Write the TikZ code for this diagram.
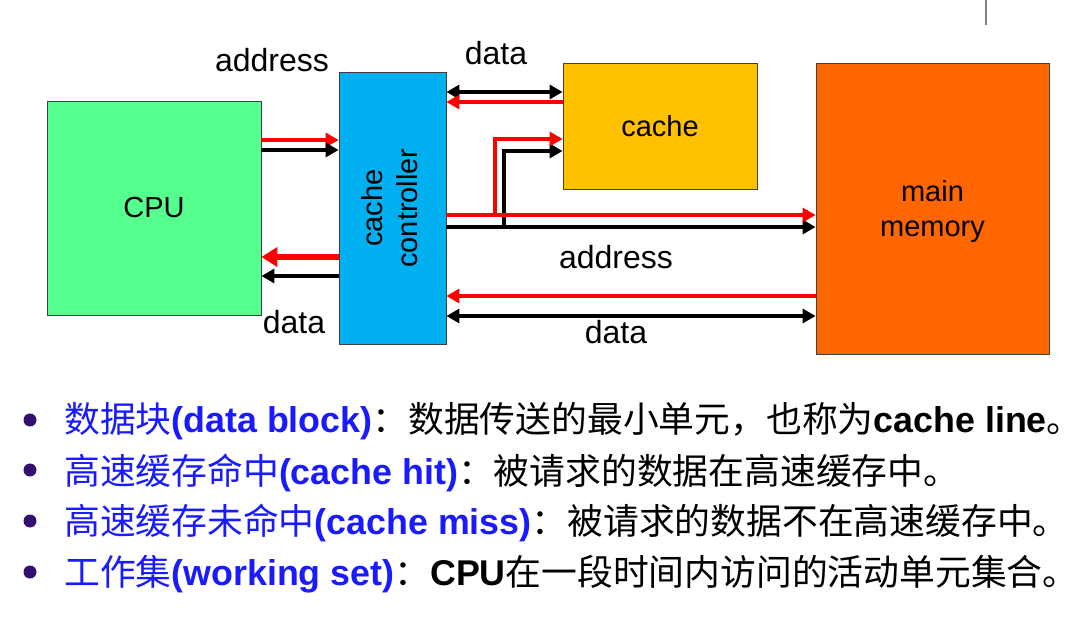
\documentclass[tikz,border=0pt]{standalone}
\usepackage{fontspec}
\setmainfont{Liberation Sans}
\newfontfamily\cjk{Noto Sans CJK SC}
\usetikzlibrary{arrows.meta}
\definecolor{cpugreen}{HTML}{55FF8E}
\definecolor{ctrlblue}{HTML}{00B0F0}
\definecolor{cacheyellow}{HTML}{FFC000}
\definecolor{memorange}{HTML}{FF6600}
\definecolor{busred}{HTML}{FF0000}
\definecolor{termblue}{HTML}{1A1AFF}
\definecolor{bulletpurple}{HTML}{34106E}
\newcommand{\zh}[1]{{\cjk #1}}
\newcommand{\term}[2]{\textcolor{termblue}{\zh{#1}\textbf{(#2)}}}

\begin{document}
\begin{tikzpicture}[
		x=1pt, y=-1pt,
		>={Triangle[length=13pt,width=14pt]},
		box/.style={draw=black!75, line width=0.8pt, inner sep=0pt, font=\fontsize{29}{35}\selectfont},
		redbus/.style={busred, line width=4pt},
		blackbus/.style={black, line width=4pt},
		buslabel/.style={font=\fontsize{32}{36}\selectfont},
		item/.style={anchor=base west, inner sep=0pt, font=\fontsize{35.8}{40}\selectfont}
	]
	\useasboundingbox (0,0) rectangle (1088,620);
	\draw[gray, line width=1.5pt] (986,0) -- (986,25);

	% blocks
	\node[box, fill=cpugreen, minimum width=214pt, minimum height=214pt]
		(cpu) at (154,208) {CPU};
	\node[box, fill=ctrlblue, minimum width=107pt, minimum height=272pt]
		(ctrl) at (392.5,208)
		{\rotatebox{90}{\begin{tabular}{@{}c@{}}cache\\controller\end{tabular}}};
	\node[box, fill=cacheyellow, minimum width=194pt, minimum height=126pt]
		(cache) at (660,126) {cache};
	\node[box, fill=memorange, minimum width=233pt, minimum height=291pt]
		(mem) at (932.5,208.5) {};
	\node[font=\fontsize{29}{35}\selectfont, align=center] (memtext) at (932.5,212) {main\\memory};

	% cpu and controller
	\draw[redbus, ->] (cpu.east |- 0,140) -- (ctrl.west |- 0,140);
	\draw[blackbus, ->] (cpu.east |- 0,150) -- (ctrl.west |- 0,150);
	\draw[
		redbus,
		line width=6.5pt,
		-{Triangle[length=16pt,width=19pt]}
	]
		(ctrl.west |- 0,257) -- (cpu.east |- 0,257);
	\draw[blackbus, ->] (ctrl.west |- 0,276) -- (cpu.east |- 0,276);

	% controller and cache
	\draw[blackbus, <->] (ctrl.east |- 0,92) -- (cache.west |- 0,92);
	\draw[redbus, ->] (cache.west |- 0,102) -- (ctrl.east |- 0,102);

	% address bus to memory, tapped to the cache
	\coordinate (redtap) at (495,215);
	\coordinate (blacktap) at (504,227);
	\draw[blackbus, ->] (ctrl.east |- blacktap) -- (mem.west |- blacktap);
	\draw[blackbus, ->] (blacktap) |- (cache.west |- 0,151);
	\draw[redbus, ->] (ctrl.east |- redtap) -- (mem.west |- redtap);
	\draw[redbus, ->] (redtap) |- (cache.west |- 0,139);

	% data bus from memory
	\draw[redbus, ->] (mem.west |- 0,296) -- (ctrl.east |- 0,296);
	\draw[blackbus, <->] (ctrl.east |- 0,316) -- (mem.west |- 0,316);

	\node[buslabel] (addrin) at (272,60) {address};
	\node[buslabel] (datacache) at (496,53) {data};
	\node[buslabel] (dataout) at (294,322) {data};
	\node[buslabel] (addrmem) at (616,257) {address};
	\node[buslabel] (datamem) at (616,332) {data};

	% terms
	\foreach \y in {420,470,521,572}
		\fill[bulletpurple] (30,\y) circle (6.5pt);
	\node[item] (block) at (64,433)
		{\term{数据块}{data block}\zh{：数据传送的最小单元，也称为}\textbf{cache line}\zh{。}};
	\node[item] (hit) at (64,484)
		{\term{高速缓存命中}{cache hit}\zh{：被请求的数据在高速缓存中。}};
	\node[item] (miss) at (64,534)
		{\term{高速缓存未命中}{cache miss}\zh{：被请求的数据不在高速缓存中。}};
	\node[item] (wset) at (64,585)
		{\term{工作集}{working set}\zh{：}\textbf{CPU}\zh{在一段时间内访问的活动单元集合。}};
\end{tikzpicture}
\end{document}
